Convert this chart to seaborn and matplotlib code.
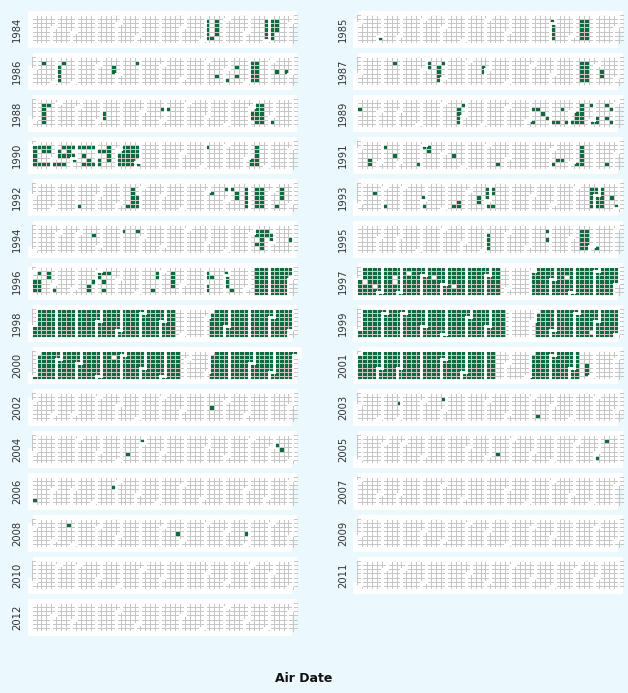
import datetime as dt
import numpy as np
import pandas as pd
import matplotlib
matplotlib.use("Agg")
import matplotlib.pyplot as plt
from matplotlib.collections import LineCollection
from matplotlib.colors import ListedColormap
import seaborn as sns

# ---------------- data ----------------
years = list(range(1984, 2013))

single_air_dates = [
    "1984-09-14",
    "1985-02-01",
    "1986-01-13", "1986-02-10", "1986-04-22", "1986-04-23", "1986-05-26", "1986-09-18",
    "1986-10-03", "1986-10-14", "1986-10-16", "1986-12-10", "1986-12-24",
    "1987-02-16", "1987-04-06", "1987-04-07", "1987-04-27", "1987-06-23", "1987-06-24",
    "1988-01-18", "1988-06-28", "1988-07-05", "1988-11-02", "1988-11-03", "1988-12-02",
    "1989-01-03", "1989-05-29", "1989-09-05", "1989-09-08", "1989-09-12", "1989-09-20",
    "1989-09-28", "1989-10-06", "1989-10-13", "1989-10-17", "1989-10-27", "1989-11-03",
    "1989-11-27", "1989-12-01", "1989-12-07", "1989-12-08", "1989-12-18", "1989-12-21",
    "1989-12-26", "1989-12-29",
    "1990-01-01", "1990-01-08", "1990-01-15", "1990-01-22", "1990-01-16", "1990-01-23",
    "1990-01-02", "1990-01-03", "1990-01-04", "1990-01-05", "1990-01-12", "1990-01-19",
    "1990-01-26", "1990-02-12", "1990-02-19", "1990-02-26", "1990-02-06", "1990-02-20",
    "1990-02-07", "1990-02-14", "1990-02-21", "1990-02-28", "1990-03-01", "1990-02-02",
    "1990-02-09", "1990-02-16", "1990-03-05", "1990-03-12", "1990-03-19", "1990-03-26",
    "1990-03-14", "1990-03-22", "1990-03-16", "1990-03-23", "1990-03-30", "1990-04-03",
    "1990-04-10", "1990-04-17", "1990-04-16", "1990-04-18", "1990-04-19", "1990-04-05",
    "1990-04-06", "1990-06-01", "1990-09-03", "1990-11-08", "1990-11-09",
    "1991-01-17", "1991-01-18", "1991-02-04", "1991-02-20", "1991-03-29", "1991-04-01",
    "1991-04-08", "1991-04-09", "1991-05-15", "1991-07-19", "1991-10-04", "1991-10-10",
    "1991-10-17", "1991-11-08", "1991-12-20",
    "1992-03-06", "1992-05-15", "1992-09-08", "1992-09-28", "1992-10-05", "1992-10-13",
    "1992-10-14", "1992-12-11",
    "1993-01-19", "1993-02-05", "1993-03-31", "1993-04-02", "1993-05-14", "1993-05-20",
    "1993-05-21", "1993-06-16", "1993-06-17", "1993-07-02", "1993-07-05", "1993-07-06",
    "1993-07-09", "1993-12-22", "1993-12-31",
    "1994-03-22", "1994-05-02", "1994-05-23", "1994-11-07", "1994-11-08", "1994-11-10",
    "1994-11-21", "1994-11-22", "1994-11-29", "1994-11-30", "1994-12-28",
    "1995-09-25", "1995-09-27", "1995-12-08",
    "1996-01-08", "1996-01-22", "1996-01-23", "1996-02-02", "1996-03-21", "1996-03-22",
    "1996-03-27", "1996-04-01", "1996-04-02", "1996-04-08", "1996-04-10", "1996-04-12",
    "1996-04-15", "1996-06-21", "1996-06-24", "1996-06-25", "1996-09-02", "1996-09-03",
    "1996-09-05", "1996-09-06", "1996-09-10", "1996-09-30", "1996-10-11",
    "2001-11-21", "2001-11-22", "2001-11-23",
    "2002-09-11",
    "2003-02-25", "2003-04-28", "2003-09-12",
    "2004-05-13", "2004-05-31", "2004-12-07", "2004-12-15",
    "2005-07-14", "2005-12-02", "2005-12-12",
    "2006-01-06", "2006-04-25",
    "2008-02-18", "2008-07-23", "2008-10-29",
]

air_date_runs = [
    ("1984-09-03", "1984-09-07"), ("1984-09-17", "1984-09-20"), ("1984-11-26", "1984-11-30"),
    ("1984-12-03", "1984-12-07"), ("1984-12-10", "1984-12-12"),
    ("1985-09-30", "1985-10-04"), ("1985-11-11", "1985-11-15"), ("1985-11-18", "1985-11-22"),
    ("1986-02-04", "1986-02-07"), ("1986-11-03", "1986-11-07"), ("1986-11-10", "1986-11-14"),
    ("1987-04-21", "1987-04-24"), ("1987-11-09", "1987-11-13"), ("1987-11-16", "1987-11-20"),
    ("1987-12-09", "1987-12-10"),
    ("1988-01-11", "1988-01-15"), ("1988-04-06", "1988-04-07"), ("1988-11-07", "1988-11-11"),
    ("1988-11-14", "1988-11-18"),
    ("1989-05-23", "1989-05-26"), ("1989-11-08", "1989-11-10"), ("1989-11-13", "1989-11-17"),
    ("1990-05-02", "1990-05-04"), ("1990-05-07", "1990-05-11"), ("1990-05-14", "1990-05-18"),
    ("1990-05-21", "1990-05-25"), ("1990-05-28", "1990-05-30"), ("1990-11-12", "1990-11-16"),
    ("1991-11-11", "1991-11-15"),
    ("1992-05-18", "1992-05-22"), ("1992-05-27", "1992-05-29"), ("1992-10-26", "1992-10-30"),
    ("1992-11-09", "1992-11-13"), ("1992-11-16", "1992-11-20"), ("1992-12-14", "1992-12-16"),
    ("1993-06-28", "1993-06-30"), ("1993-11-22", "1993-11-26"), ("1993-11-29", "1993-12-03"),
    ("1993-12-06", "1993-12-10"),
    ("1994-11-14", "1994-11-18"),
    ("1995-07-04", "1995-07-07"), ("1995-11-13", "1995-11-17"), ("1995-11-20", "1995-11-24"),
    ("1996-01-03", "1996-01-05"), ("1996-01-10", "1996-01-12"), ("1996-07-15", "1996-07-18"),
    ("1996-10-01", "1996-10-03"), ("1996-11-10", "1996-12-30"),
    ("1997-01-01", "1997-07-19"), ("1997-09-01", "1997-12-31"),
    ("1998-01-01", "1998-07-18"), ("1998-09-07", "1998-12-31"),
    ("1999-01-01", "1999-07-24"), ("1999-09-06", "1999-12-31"),
    ("2000-01-01", "2000-07-22"), ("2000-09-04", "2000-12-31"),
    ("2001-01-01", "2001-07-14"), ("2001-09-03", "2001-11-10"),
]

# days inside the runs with no episode (white holes)
off_air_dates = [
    "1997-01-08", "1997-01-23", "1997-02-18", "1997-02-19", "1997-03-10", "1997-04-15",
    "1997-05-15", "1997-10-21",
    "1999-11-26",
    "2000-01-02", "2000-04-17",
]

# ---------------- style ----------------
GREEN = "#0E6B3D"
EMPTY = "#FFFFFF"
GRID = "#C6C6C6"
BG = "#EBF8FD"
W, H = 628, 693
NW = 54
CW = 4.94
CH = 4.15
GH = 7 * CH

aired = set(dt.date.fromisoformat(d) for d in single_air_dates)
for a, b in air_date_runs:
    d0, d1 = dt.date.fromisoformat(a), dt.date.fromisoformat(b)
    while d0 <= d1:
        aired.add(d0)
        d0 += dt.timedelta(days=1)
aired -= set(dt.date.fromisoformat(d) for d in off_air_dates)


def calendar(year):
    first = dt.date(year, 1, 1)
    off = (first.weekday() + 1) % 7
    vals = np.full((7, NW), np.nan)
    months = np.zeros((7, NW), int)
    d = first
    while d.year == year:
        idx = (d - first).days + off
        r, c = idx % 7, idx // 7
        vals[r, c] = 1.0 if d in aired else 0.0
        months[r, c] = d.month
        d += dt.timedelta(days=1)
    return vals, months


def borders(months):
    outer, inner = [], []
    for r in range(7):
        for c in range(NW):
            m = months[r, c]
            if m == 0:
                continue
            for dr, dc, seg in [(-1, 0, [(c, r), (c + 1, r)]),
                                (1, 0, [(c, r + 1), (c + 1, r + 1)]),
                                (0, -1, [(c, r), (c, r + 1)]),
                                (0, 1, [(c + 1, r), (c + 1, r + 1)])]:
                rr, cc = r + dr, c + dc
                nm = months[rr, cc] if (0 <= rr < 7 and 0 <= cc < NW) else 0
                if nm == 0:
                    outer.append(seg)
                elif nm != m and (dr > 0 or dc > 0):
                    inner.append(seg)
    return outer, inner


sns.set_theme(style="white")
plt.rcParams["font.family"] = ["DejaVu Sans"]
fig = plt.figure(figsize=(W / 100, H / 100), dpi=100)
fig.patch.set_facecolor(BG)

cmap = ListedColormap([EMPTY, GREEN])
for i, year in enumerate(years):
    k, col = divmod(i, 2)
    x0 = 31.6 if col == 0 else 357.0
    ytop = 15 + 42 * k
    ax = fig.add_axes([x0 / W, 1 - (ytop + GH) / H, NW * CW / W, GH / H])
    vals, months = calendar(year)
    sns.heatmap(pd.DataFrame(vals), ax=ax, mask=np.isnan(vals), cmap=cmap, vmin=0, vmax=1,
                cbar=False, linewidths=0.55, linecolor=GRID,
                xticklabels=False, yticklabels=False)
    outer, inner = borders(months)
    ax.add_collection(LineCollection(outer, colors="white", linewidths=5.5,
                                     capstyle="projecting", zorder=0.5, clip_on=False))
    ax.add_collection(LineCollection(outer, colors="white", linewidths=1.3,
                                     capstyle="projecting", zorder=3, clip_on=False))
    ax.add_collection(LineCollection(inner, colors="white", linewidths=2.0,
                                     capstyle="projecting", zorder=3, clip_on=False))
    ax.set_xlim(0, NW)
    ax.set_ylim(7, 0)
    ax.set_axis_off()
    lx = 17 if col == 0 else 343
    fig.text(lx / W, 1 - (ytop + GH / 2) / H, str(year), rotation=90, ha="center",
             va="center", fontsize=7.2, color="#333333")

fig.text(304 / W, 1 - 679 / H, "Air Date", ha="center", va="center",
         fontsize=9, fontweight="bold", color="#111111")

fig.savefig("out.png", dpi=100, facecolor=BG)
